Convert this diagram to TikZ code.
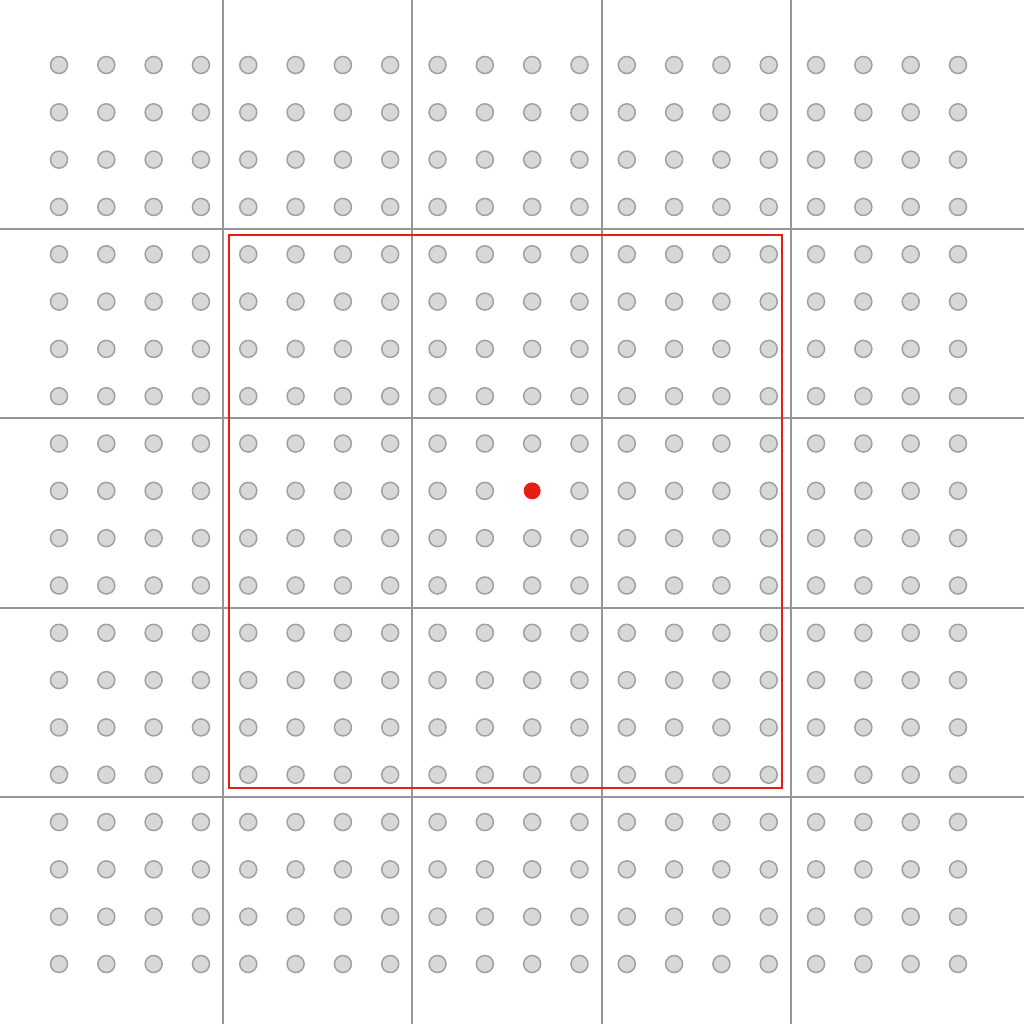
\documentclass[tikz,border=0pt]{standalone}
\usepackage{tikz}
\usetikzlibrary{positioning}
\definecolor{gridgray}{RGB}{150,150,150}
\definecolor{dotgray}{RGB}{216,216,216}
\definecolor{dotedge}{RGB}{160,160,160}
\definecolor{hlred}{RGB}{230,30,20}

\begin{document}
\begin{tikzpicture}[
  node_dot/.style={circle, draw=dotedge, fill=dotgray, line width=0.9pt, minimum size=0.36cm, inner sep=0pt},
  node_hit/.style={circle, draw=hlred, fill=hlred, line width=0.5pt, minimum size=0.34cm, inner sep=0pt},
  grid_line/.style={draw=gridgray, line width=1.2pt}
]
  \useasboundingbox (-1.247,1.374) rectangle (20.394,-20.268);

  %% Block boundaries
  \foreach \k in {3.47,7.47,11.47,15.47} {
    \draw[grid_line] (\k,1.374) -- (\k,-20.268);
    \draw[grid_line] (-1.247,-\k) -- (20.394,-\k);
  }

  %% Sample points
  \foreach \i in {0,...,19} {
    \foreach \j in {0,...,19} {
      \ifnum\i=10 \ifnum\j=9 \else
        \node[node_dot] (d-\i-\j) at (\i,-\j) {};
      \fi \else
        \node[node_dot] (d-\i-\j) at (\i,-\j) {};
      \fi
    }
  }

  %% Window
  \draw[hlred, line width=1.2pt] (3.6,-3.6) rectangle (15.28,-15.28);

  %% Center point
  \node[node_hit] (hit) at (10,-9) {};
\end{tikzpicture}
\end{document}
